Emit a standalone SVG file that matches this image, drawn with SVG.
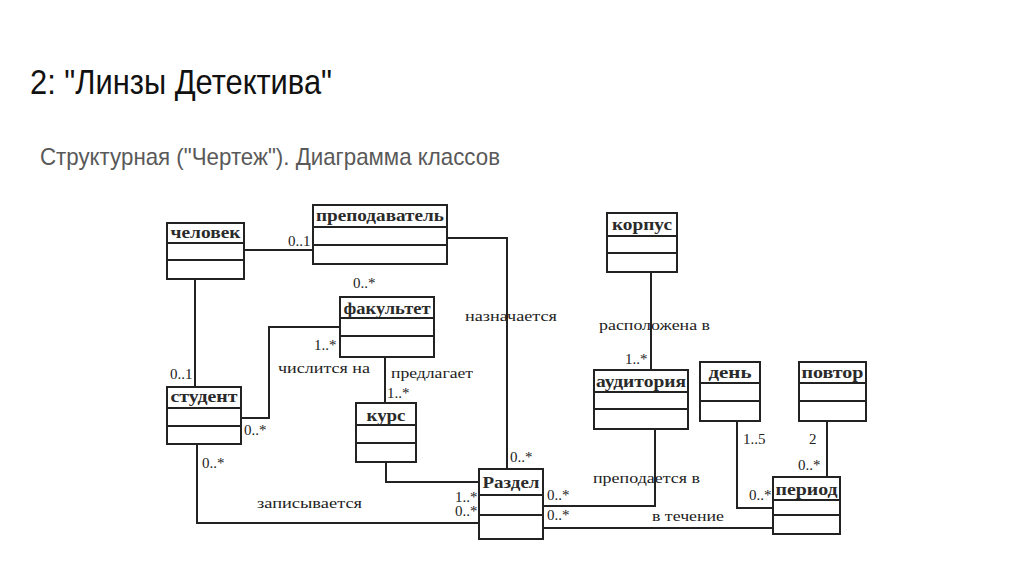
<svg xmlns="http://www.w3.org/2000/svg" width="1024" height="574" viewBox="0 0 1024 574">
<style>
.title{font-family:"Liberation Sans",Arial,sans-serif;font-size:35px;fill:#111}
.sub{font-family:"Liberation Sans",Arial,sans-serif;font-size:24px;fill:#595959}
.box{fill:#fff;stroke:#222;stroke-width:2}
.sep{stroke:#222;stroke-width:2}
.name{font-family:"Liberation Serif","Times New Roman",serif;font-size:17px;font-weight:bold;fill:#2a2a2a;text-anchor:middle}
.lbl{font-family:"Liberation Serif","Times New Roman",serif;font-size:15px;fill:#222}
.conn{fill:none;stroke:#222;stroke-width:2}
</style>
<rect width="1024" height="574" fill="#fff"/>
<text class="title" x="30" y="94" textLength="302" lengthAdjust="spacingAndGlyphs">2: "Линзы Детектива"</text>
<text class="sub" x="40" y="165" textLength="460" lengthAdjust="spacingAndGlyphs">Структурная ("Чертеж"). Диаграмма классов</text>

<g id="connectors">
<polyline class="conn" points="244,250 313,250"/>
<polyline class="conn" points="447,238 507,238 507,469"/>
<polyline class="conn" points="340,327 269,327 269,418 241,418"/>
<polyline class="conn" points="385,357 385,403"/>
<polyline class="conn" points="386,462 386,482 479,482"/>
<polyline class="conn" points="195,279 195,387"/>
<polyline class="conn" points="197,444 197,523 479,523"/>
<polyline class="conn" points="651,272 651,370"/>
<polyline class="conn" points="655,429 655,506 543,506"/>
<polyline class="conn" points="543,528 773,528"/>
<polyline class="conn" points="737,421 737,508 773,508"/>
<polyline class="conn" points="827,421 827,477"/>
</g>

<g id="labels">
<text class="lbl" x="288" y="246">0..1</text>
<text class="lbl" x="353" y="288">0..*</text>
<text class="lbl" x="314" y="350">1..*</text>
<text class="lbl" x="278" y="373" textLength="92" lengthAdjust="spacingAndGlyphs">числится на</text>
<text class="lbl" x="391" y="378" textLength="82" lengthAdjust="spacingAndGlyphs">предлагает</text>
<text class="lbl" x="387" y="398">1..*</text>
<text class="lbl" x="170" y="379">0..1</text>
<text class="lbl" x="244" y="435">0..*</text>
<text class="lbl" x="202" y="468">0..*</text>
<text class="lbl" x="257" y="508" textLength="105" lengthAdjust="spacingAndGlyphs">записывается</text>
<text class="lbl" x="455" y="502">1..*</text>
<text class="lbl" x="455" y="516">0..*</text>
<text class="lbl" x="465" y="321" textLength="92" lengthAdjust="spacingAndGlyphs">назначается</text>
<text class="lbl" x="599" y="330" textLength="111" lengthAdjust="spacingAndGlyphs">расположена в</text>
<text class="lbl" x="625" y="364">1..*</text>
<text class="lbl" x="510" y="462">0..*</text>
<text class="lbl" x="593" y="483" textLength="107" lengthAdjust="spacingAndGlyphs">преподается в</text>
<text class="lbl" x="547" y="500">0..*</text>
<text class="lbl" x="547" y="520">0..*</text>
<text class="lbl" x="652" y="521" textLength="72" lengthAdjust="spacingAndGlyphs">в течение</text>
<text class="lbl" x="743" y="444">1..5</text>
<text class="lbl" x="809" y="444">2</text>
<text class="lbl" x="798" y="470">0..*</text>
<text class="lbl" x="749" y="500">0..*</text>
</g>

<g id="chelovek">
<rect class="box" x="167" y="223" width="77" height="56"/>
<line class="sep" x1="167" y1="243" x2="244" y2="243"/>
<line class="sep" x1="167" y1="260" x2="244" y2="260"/>
<text class="name" x="205.5" y="238" textLength="70" lengthAdjust="spacingAndGlyphs">человек</text>
</g>
<g id="prepodavatel">
<rect class="box" x="313" y="205" width="134" height="59"/>
<line class="sep" x1="313" y1="227" x2="447" y2="227"/>
<line class="sep" x1="313" y1="245" x2="447" y2="245"/>
<text class="name" x="380" y="221" textLength="128" lengthAdjust="spacingAndGlyphs">преподаватель</text>
</g>
<g id="fakultet">
<rect class="box" x="340" y="297" width="94" height="60"/>
<line class="sep" x1="340" y1="318" x2="434" y2="318"/>
<line class="sep" x1="340" y1="336" x2="434" y2="336"/>
<text class="name" x="387" y="314" textLength="87" lengthAdjust="spacingAndGlyphs">факультет</text>
</g>
<g id="student">
<rect class="box" x="167" y="387" width="74" height="57"/>
<line class="sep" x1="167" y1="408" x2="241" y2="408"/>
<line class="sep" x1="167" y1="426" x2="241" y2="426"/>
<text class="name" x="204" y="402" textLength="67" lengthAdjust="spacingAndGlyphs">студент</text>
</g>
<g id="kurs">
<rect class="box" x="356" y="403" width="60" height="59"/>
<line class="sep" x1="356" y1="425" x2="416" y2="425"/>
<line class="sep" x1="356" y1="443" x2="416" y2="443"/>
<text class="name" x="386" y="421" textLength="39" lengthAdjust="spacingAndGlyphs">курс</text>
</g>
<g id="razdel">
<rect class="box" x="479" y="469" width="64" height="70"/>
<line class="sep" x1="479" y1="495" x2="543" y2="495"/>
<line class="sep" x1="479" y1="515" x2="543" y2="515"/>
<text class="name" x="511" y="488" textLength="57" lengthAdjust="spacingAndGlyphs">Раздел</text>
</g>
<g id="korpus">
<rect class="box" x="607" y="213" width="70" height="59"/>
<line class="sep" x1="607" y1="236" x2="677" y2="236"/>
<line class="sep" x1="607" y1="253" x2="677" y2="253"/>
<text class="name" x="642" y="230" textLength="60" lengthAdjust="spacingAndGlyphs">корпус</text>
</g>
<g id="auditoriya">
<rect class="box" x="594" y="370" width="94" height="59"/>
<line class="sep" x1="594" y1="392" x2="688" y2="392"/>
<line class="sep" x1="594" y1="409" x2="688" y2="409"/>
<text class="name" x="641" y="387" textLength="90" lengthAdjust="spacingAndGlyphs">аудитория</text>
</g>
<g id="den">
<rect class="box" x="700" y="362" width="60" height="59"/>
<line class="sep" x1="700" y1="383" x2="760" y2="383"/>
<line class="sep" x1="700" y1="401" x2="760" y2="401"/>
<text class="name" x="730" y="378" textLength="43" lengthAdjust="spacingAndGlyphs">день</text>
</g>
<g id="povtor">
<rect class="box" x="799" y="362" width="67" height="59"/>
<line class="sep" x1="799" y1="383" x2="866" y2="383"/>
<line class="sep" x1="799" y1="401" x2="866" y2="401"/>
<text class="name" x="832.5" y="378" textLength="62" lengthAdjust="spacingAndGlyphs">повтор</text>
</g>
<g id="period">
<rect class="box" x="773" y="477" width="67" height="57"/>
<line class="sep" x1="773" y1="500" x2="840" y2="500"/>
<line class="sep" x1="773" y1="515" x2="840" y2="515"/>
<text class="name" x="806.5" y="495" textLength="62" lengthAdjust="spacingAndGlyphs">период</text>
</g>
</svg>
